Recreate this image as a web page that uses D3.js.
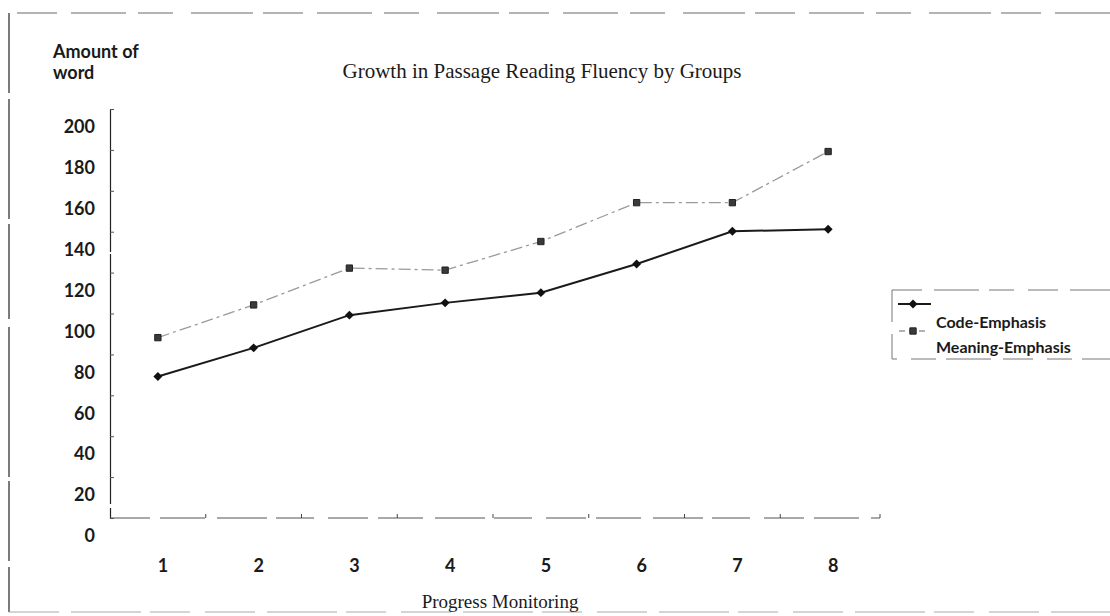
<!DOCTYPE html>
<html>
<head>
<meta charset="utf-8">
<script src="https://cdn.jsdelivr.net/npm/d3@7"></script>
<style>
  html, body { margin: 0; padding: 0; background: #fff; }
  svg { display: block; }
  .sans { font-family: Lato, "Open Sans", sans-serif; font-weight: 700; fill: #1a1a1a; }
  .serif { font-family: "Liberation Serif", "DejaVu Serif", serif; fill: #1a1a1a; }
</style>
</head>
<body>
<svg id="chart" width="1110" height="616"></svg>
<script>
// Progress-monitoring sessions and words read per group
const sessions = [1, 2, 3, 4, 5, 6, 7, 8];
const codeEmphasis = [78, 92, 108, 114, 119, 133, 149, 150];
const meaningEmphasis = [97, 113, 131, 130, 144, 163, 163, 188];
const yTicks = [0, 20, 40, 60, 80, 100, 120, 140, 160, 180, 200];
const seriesNames = ["Code-Emphasis", "Meaning-Emphasis"];

const svg = d3.select("#chart");

// Outer frame, broken like a photocopied border
const frame = svg.append("g")
  .attr("fill", "none")
  .attr("stroke-width", 1.1);
frame.append("path")
  .attr("d", "M1110,13 L9,13")
  .attr("stroke", "#6a6a6a")
  .attr("stroke-dasharray", "55 14 40 10 62 18 35 12");
frame.append("path")
  .attr("d", "M9,13 L9,612")
  .attr("stroke", "#444")
  .attr("stroke-width", 1.4)
  .attr("stroke-dasharray", "80 6 120 5 95 8 150 4");
frame.append("path")
  .attr("d", "M9,612 L1110,612")
  .attr("stroke", "#aaa")
  .attr("stroke-dasharray", "50 12 70 9 40 15");

// Scales
const y = d3.scaleLinear().domain([0, 200]).range([536, 127]);
const axisShift = -18;               // axis frame sits a little above its labels
const xBand = d3.scaleBand().domain(sessions).range([110, 876]);
const x = d => xBand(d) + xBand.bandwidth() / 2;

// Y axis: frame line with inward ticks
const yFrame = svg.append("g")
  .attr("transform", `translate(110,${axisShift})`)
  .call(d3.axisLeft(y).tickValues(yTicks).tickSize(-4).tickFormat(""));
yFrame.select(".domain").attr("stroke", "#222").attr("stroke-width", 1.2)
  .attr("stroke-dasharray", "14 4 250 2 300");
yFrame.selectAll(".tick line").attr("stroke", "#555");

// Y tick labels
const yLab = svg.append("g")
  .attr("transform", "translate(110,0)")
  .call(d3.axisLeft(y).tickValues(yTicks).tickSize(0).tickPadding(15));
yLab.select(".domain").remove();
yLab.selectAll("text").attr("class", "sans").style("font-size", "18px")
  .attr("font-family", null).attr("fill", null);

// X axis: baseline with ticks between sessions
const xFrame = svg.append("g")
  .attr("transform", `translate(0,${y(0) + axisShift})`);
xFrame.append("path")
  .attr("d", `M110,0 L880,0`)
  .attr("stroke", "#555").attr("stroke-width", 1.2)
  .attr("stroke-dasharray", "40 10 45 12 50 9 38 14");
xFrame.selectAll("line.sep")
  .data(sessions.slice(1).concat(["end"]))
  .join("line")
  .attr("x1", d => d === "end" ? 880 : xBand(d))
  .attr("x2", d => d === "end" ? 880 : xBand(d))
  .attr("y1", 0).attr("y2", -4)
  .attr("stroke", "#444");

// X tick labels
const xLab = svg.append("g")
  .attr("transform", `translate(5,${y(0) + axisShift + 41})`)
  .call(d3.axisBottom(xBand).tickSize(0).tickPadding(0));
xLab.select(".domain").remove();
xLab.selectAll("text").attr("class", "sans").style("font-size", "18px")
  .attr("font-family", null).attr("fill", null);

// Lines
const line = d3.line().x((d, i) => x(sessions[i])).y(d => y(d));

svg.append("path")
  .datum(meaningEmphasis)
  .attr("d", line)
  .attr("fill", "none")
  .attr("stroke", "#9a9a9a")
  .attr("stroke-width", 1.3)
  .attr("stroke-dasharray", "12 4 3 4");

svg.append("path")
  .datum(codeEmphasis)
  .attr("d", line)
  .attr("fill", "none")
  .attr("stroke", "#1a1a1a")
  .attr("stroke-width", 2);

// Markers: rotated square for Code-Emphasis, square for Meaning-Emphasis
const diamond = d3.symbol().type(d3.symbolSquare).size(40);
const square = d3.symbol().type(d3.symbolSquare).size(40);

svg.append("g").selectAll("path")
  .data(meaningEmphasis)
  .join("path")
  .attr("transform", (d, i) => `translate(${x(sessions[i])},${y(d)})`)
  .attr("d", square)
  .attr("fill", "#3a3a3a")
  .attr("stroke", "#222")
  .attr("stroke-width", 1);

svg.append("g").selectAll("path")
  .data(codeEmphasis)
  .join("path")
  .attr("transform", (d, i) => `translate(${x(sessions[i])},${y(d)}) rotate(45)`)
  .attr("d", diamond)
  .attr("fill", "#111");

// Titles
svg.append("text")
  .attr("class", "serif")
  .attr("x", 542).attr("y", 78)
  .attr("text-anchor", "middle")
  .style("font-size", "21px")
  .text("Growth in Passage Reading Fluency by Groups");

const yTitle = svg.append("text")
  .attr("class", "sans")
  .attr("x", 53).attr("y", 58)
  .style("font-size", "18px");
yTitle.append("tspan").attr("x", 53).text("Amount of");
yTitle.append("tspan").attr("x", 53).attr("dy", 21).text("word");

svg.append("text")
  .attr("class", "serif")
  .attr("x", 500).attr("y", 608)
  .attr("text-anchor", "middle")
  .style("font-size", "19px")
  .text("Progress Monitoring");

// Legend
const legend = svg.append("g");
legend.append("rect")
  .attr("x", 892).attr("y", 290)
  .attr("width", 240).attr("height", 69)
  .attr("fill", "none")
  .attr("stroke", "#777")
  .attr("stroke-width", 1)
  .attr("stroke-dasharray", "30 12 45 10 25 14");

legend.append("line")
  .attr("x1", 898).attr("x2", 931).attr("y1", 304).attr("y2", 304)
  .attr("stroke", "#1a1a1a").attr("stroke-width", 2);
legend.append("path")
  .attr("transform", "translate(913,304) rotate(45)")
  .attr("d", diamond).attr("fill", "#111");

legend.append("line")
  .attr("x1", 899).attr("x2", 928).attr("y1", 331).attr("y2", 331)
  .attr("stroke", "#9a9a9a").attr("stroke-width", 1.3)
  .attr("stroke-dasharray", "6 4");
legend.append("path")
  .attr("transform", "translate(913,331)")
  .attr("d", square).attr("fill", "#3a3a3a").attr("stroke", "#222");

legend.selectAll("text.item")
  .data(seriesNames)
  .join("text")
  .attr("class", "sans item")
  .attr("x", 936)
  .attr("y", (d, i) => 328 + i * 25)
  .style("font-size", "16px")
  .text(d => d);
</script>
</body>
</html>
